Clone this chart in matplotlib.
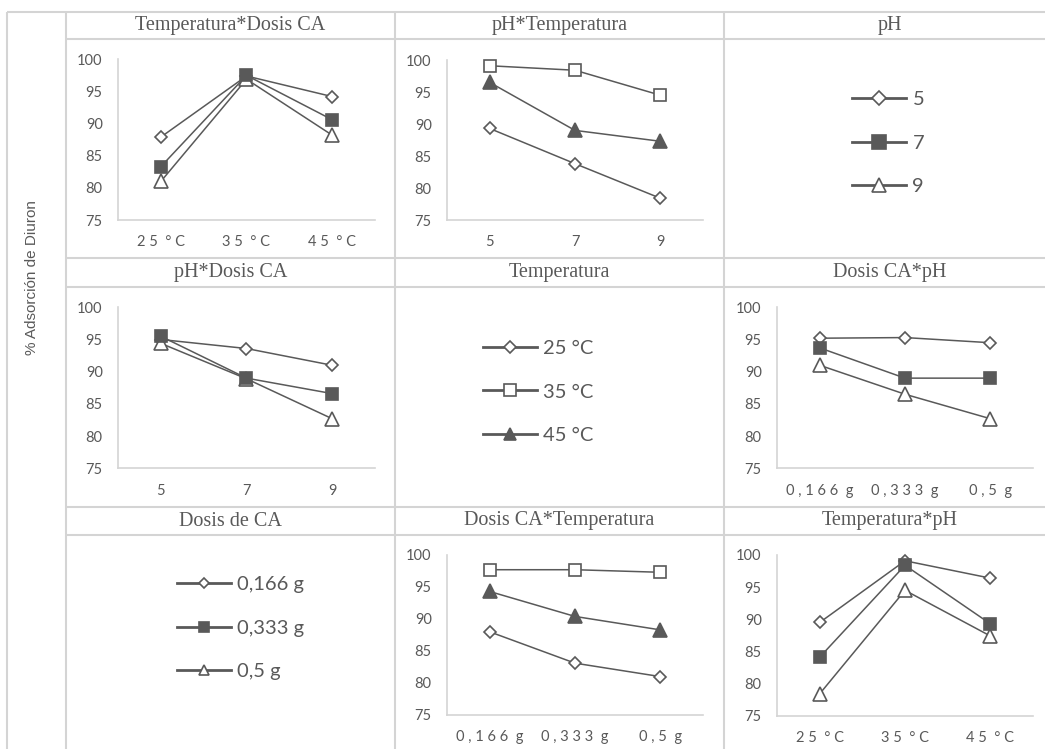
import matplotlib.pyplot as plt
from matplotlib.lines import Line2D

W, H = 1045, 749
GRAY = "#595959"
BORDER = "#d4d4d4"

# factor levels
temps = ["25 °C", "35 °C", "45 °C"]
ph_levels = ["5", "7", "9"]
dosis = ["0,166 g", "0,333 g", "0,5 g"]

# Temperatura*Dosis CA (x = temperatura, one line per dosis)
td_0166 = [87.9, 97.4, 94.2]
td_0333 = [83.3, 97.5, 90.6]
td_05 = [81.0, 96.9, 88.2]

# pH*Temperatura (x = pH, one line per temperatura)
pt_25 = [89.3, 83.8, 78.4]
pt_35 = [99.1, 98.4, 94.5]
pt_45 = [96.5, 89.0, 87.3]

# pH*Dosis CA (x = pH, one line per dosis)
pd_0166 = [95.0, 93.6, 91.0]
pd_0333 = [95.5, 89.0, 86.6]
pd_05 = [94.4, 88.9, 82.7]

# Dosis CA*pH (x = dosis, one line per pH)
dp_5 = [95.2, 95.3, 94.5]
dp_7 = [93.7, 89.0, 89.0]
dp_9 = [91.0, 86.5, 82.7]

# Dosis CA*Temperatura (x = dosis, one line per temperatura)
dt_25 = [88.0, 83.1, 81.0]
dt_35 = [97.7, 97.7, 97.3]
dt_45 = [94.3, 90.4, 88.3]

# Temperatura*pH (x = temperatura, one line per pH)
tp_5 = [89.5, 99.1, 96.4]
tp_7 = [84.1, 98.4, 89.3]
tp_9 = [78.4, 94.5, 87.4]

# marker styles for each factor
open_diamond = dict(marker="D", markersize=6.5, markerfacecolor="white", markeredgecolor=GRAY, markeredgewidth=1.2)
filled_square = dict(marker="s", markersize=9, markerfacecolor=GRAY, markeredgecolor=GRAY, markeredgewidth=1.2)
open_square = dict(marker="s", markersize=9, markerfacecolor="white", markeredgecolor=GRAY, markeredgewidth=1.2)
open_triangle = dict(marker="^", markersize=9.5, markerfacecolor="white", markeredgecolor=GRAY, markeredgewidth=1.2)
filled_triangle = dict(marker="^", markersize=9.5, markerfacecolor=GRAY, markeredgecolor=GRAY, markeredgewidth=1.2)

ph_styles = [open_diamond, filled_square, open_triangle]
temp_styles = [open_diamond, open_square, filled_triangle]
dosis_styles = [open_diamond, filled_square, open_triangle]

plt.rcParams["font.family"] = ["Lato", "DejaVu Sans"]

fig = plt.figure(figsize=(W / 100, H / 100), dpi=100)

# background layer in pixel coordinates for the table grid and titles
bg = fig.add_axes([0, 0, 1, 1], zorder=0)
bg.set_xlim(0, W)
bg.set_ylim(H, 0)
bg.axis("off")

def hline(y, x0, x1):
    bg.plot([x0, x1], [y, y], color=BORDER, lw=1.5, solid_capstyle="butt")

def vline(x, y0, y1):
    bg.plot([x, x], [y0, y1], color=BORDER, lw=1.5, solid_capstyle="butt")

vline(7, 12, H)
vline(66, 12, H)
vline(395, 12, H)
vline(724, 12, H)
hline(12, 7, W)
for y in [39, 258, 287, 507, 535]:
    hline(y, 66, W)

bg.text(32, 278, "% Adsorción de Diuron", rotation=90, ha="center", va="center",
        fontsize=11, color=GRAY, family=["Liberation Sans Narrow", "Liberation Sans"])

col_x = [230.5, 559.5, 890]
row_y = [25.5, 273, 521]
titles = [["Temperatura*Dosis CA", "pH*Temperatura", "pH"],
          ["pH*Dosis CA", "Temperatura", "Dosis CA*pH"],
          ["Dosis de CA", "Dosis CA*Temperatura", "Temperatura*pH"]]
for r in range(3):
    for c in range(3):
        bg.text(col_x[c], row_y[r], titles[r][c], ha="center", va="center",
                fontsize=14.5, color=GRAY, family="Liberation Serif")


def spaced(label):
    # letter-spaced axis labels
    return "  ".join(" ".join(word) for word in label.split(" "))


def panel(box, categories, series, styles):
    left, top, right, bottom = box
    ax = fig.add_axes([left / W, 1 - bottom / H, (right - left) / W, (bottom - top) / H], zorder=2)
    x = range(len(categories))
    for vals, st in zip(series, styles):
        z = 4 if st["marker"] == "s" else 3
        ax.plot(x, vals, color=GRAY, lw=1.1, zorder=z, clip_on=False, **st)
    ax.set_xlim(-0.5, len(categories) - 0.5)
    ax.set_ylim(75, 100)
    ax.set_yticks([75, 80, 85, 90, 95, 100])
    ax.set_xticks(list(x))
    ax.set_xticklabels([spaced(c) for c in categories])
    ax.tick_params(length=0, labelsize=10.5, labelcolor=GRAY)
    ax.tick_params(axis="y", pad=11)
    ax.tick_params(axis="x", pad=11)
    for side in ["top", "right"]:
        ax.spines[side].set_visible(False)
    for side in ["left", "bottom"]:
        ax.spines[side].set_color(BORDER)
        ax.spines[side].set_linewidth(1.2)
    ax.patch.set_alpha(0)
    return ax


panel((118, 59.3, 375, 220), temps, [td_0166, td_0333, td_05], dosis_styles)
panel((447, 60, 703, 220), ph_levels, [pt_25, pt_35, pt_45], temp_styles)
panel((118, 307.3, 375, 468.3), ph_levels, [pd_0166, pd_0333, pd_05], dosis_styles)
panel((777, 307.3, 1033, 468.3), dosis, [dp_5, dp_7, dp_9], ph_styles)
panel((447, 555, 703, 715), dosis, [dt_25, dt_35, dt_45], temp_styles)
panel((777, 555, 1033, 715.7), temps, [tp_5, tp_7, tp_9], ph_styles)


def legend_cell(labels, styles, x, y, scale):
    handles = [Line2D([], [], color=GRAY, lw=2, **st) for st in styles]
    fig.legend(handles, labels, loc="center left", bbox_to_anchor=(x / W, 1 - y / H),
               frameon=False, fontsize=14.5, labelcolor=GRAY, handlelength=2.7,
               handletextpad=0.3, labelspacing=1.3, borderpad=0, borderaxespad=0,
               markerscale=scale)


legend_cell(ph_levels, ph_styles, 852, 143, 1.1)
legend_cell(temps, temp_styles, 483, 392, 0.95)
legend_cell(dosis, dosis_styles, 177, 628, 0.8)

fig.savefig("out.png", dpi=100)
